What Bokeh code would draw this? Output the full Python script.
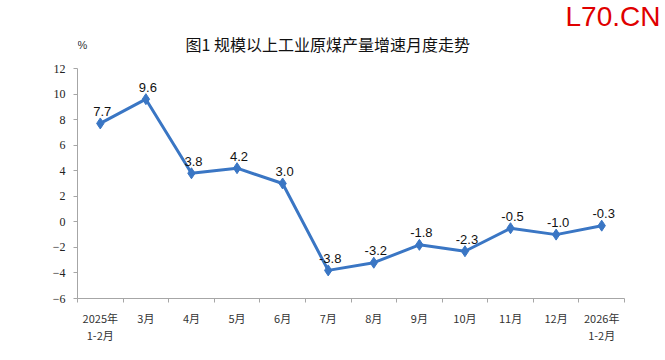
from bokeh.plotting import figure
from bokeh.models import Range1d, FixedTicker, ColumnDataSource
from bokeh.core.properties import value
from bokeh.embed import file_html
from bokeh.resources import INLINE

categories = ["2025年\n1-2月", "3月", "4月", "5月", "6月", "7月", "8月", "9月", "10月", "11月", "12月", "2026年\n1-2月"]
growth = [7.7, 9.6, 3.8, 4.2, 3.0, -3.8, -3.2, -1.8, -2.3, -0.5, -1.0, -0.3]
y_ticks = [-6, -4, -2, 0, 2, 4, 6, 8, 10, 12]
title_text = "图1  规模以上工业原煤产量增速月度走势"
unit_text = "%"
mark_text = "L70.CN"

W, H = 665, 360
LEFT, RIGHT_GAP, TOP_GAP, BOTTOM = 77, 41, 68, 62   # plot-area margins in pixels
y_lo, y_hi = y_ticks[0], y_ticks[-1]
n = len(categories)

# frame spans to the top/right canvas edge so header texts are not clipped;
# axes are bounded to the real data area
px_x = (W - LEFT - RIGHT_GAP) / n
px_y = (H - TOP_GAP - BOTTOM) / (y_hi - y_lo)
x_range = Range1d(0, n + RIGHT_GAP / px_x)
y_range = Range1d(y_lo, y_hi + TOP_GAP / px_y)

xs = [i + 0.5 for i in range(n)]
src = ColumnDataSource(dict(x=xs, y=growth, lbl=[f"{v:.1f}" for v in growth]))

p = figure(width=W, height=H, output_backend="svg", toolbar_location=None,
           x_range=x_range, y_range=y_range,
           min_border_left=LEFT, min_border_right=0, min_border_top=0, min_border_bottom=BOTTOM)
p.outline_line_color = None
p.grid.grid_line_color = None
p.background_fill_color = "white"
p.border_fill_color = "white"

line_color = "#3a76c4"
p.line("x", "y", source=src, line_color=line_color, line_width=3)
p.scatter("x", "y", source=src, marker="diamond", size=11, fill_color=line_color, line_color=line_color)
p.text("x", "y", text="lbl", source=src, text_align="center", text_baseline="alphabetic",
       x_offset=2, y_offset=-12, text_font=value("Liberation Sans"), text_font_size="13px",
       text_color="#111111")

# header texts anchored at the top-left corner of the data area (0, y_hi)
p.text(x=[0], y=[y_hi], text=[unit_text], text_baseline="middle",
       x_offset=0, y_offset=-24,
       text_font=value("Liberation Sans"), text_font_size="11px", text_color="#333333")
p.text(x=[0], y=[y_hi], text=[title_text], text_baseline="middle",
       x_offset=108, y_offset=-25,
       text_font=value("Noto Sans CJK SC"), text_font_size="16px", text_color="#111111")
p.text(x=[0], y=[y_hi], text=[mark_text], text_baseline="middle",
       x_offset=488, y_offset=-52,
       text_font=value("Liberation Sans"), text_font_size="28px", text_color="#e00000")

xa = p.xaxis[0]
xa.bounds = (0, n)
xa.ticker = FixedTicker(ticks=xs, minor_ticks=list(range(n + 1)))
xa.major_label_overrides = {x: c for x, c in zip(xs, categories)}
xa.major_tick_out = 0
xa.major_tick_in = 0
xa.minor_tick_out = 4
xa.minor_tick_in = 0
xa.minor_tick_line_color = "#a6a6a6"
xa.axis_line_color = "#a6a6a6"
xa.major_label_text_font = "Noto Sans CJK SC"
xa.major_label_text_font_size = "11px"
xa.major_label_text_color = "#333333"
xa.major_label_text_line_height = 1.1
xa.major_label_standoff = 7

ya = p.yaxis[0]
ya.bounds = (y_lo, y_hi)
ya.ticker = FixedTicker(ticks=y_ticks)
ya.major_tick_out = 4
ya.major_tick_in = 0
ya.minor_tick_out = 0
ya.minor_tick_in = 0
ya.major_tick_line_color = "#a6a6a6"
ya.axis_line_color = "#a6a6a6"
ya.major_label_text_font = "Liberation Serif"
ya.major_label_text_font_size = "12px"
ya.major_label_text_color = "#222222"
ya.major_label_standoff = 8

open("out.html", "w").write(file_html(p, INLINE))
